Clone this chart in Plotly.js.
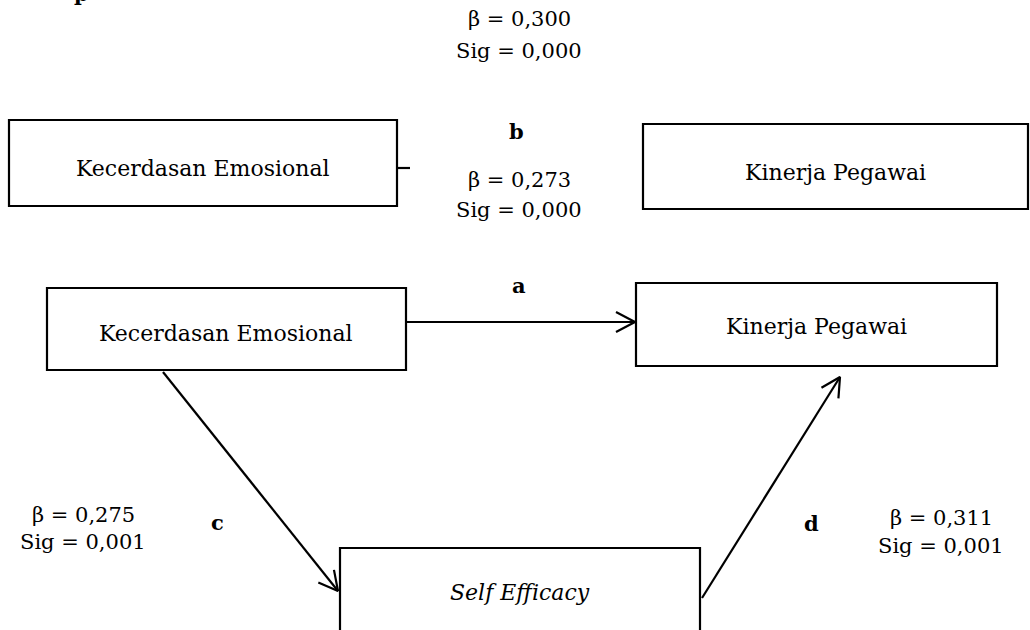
<!DOCTYPE html>
<html>
<head>
<meta charset="utf-8">
<script src="https://cdn.plot.ly/plotly-3.0.1.min.js"></script>
<style>html,body{margin:0;padding:0;background:#fff;}#chart{width:1030px;height:630px;}</style>
</head>
<body>
<div id="chart"></div>
<script>
// ---- data ----
const variables = ["Kecerdasan Emosional", "Kinerja Pegawai", "Self Efficacy"];
const pathNames = ["a", "b", "c", "d"];
const betaTotal = "0,300";
const sigTotal = "0,000";
const betaValues = ["0,273", "0,275", "0,311"];   // b, c, d
const sigValues = ["0,000", "0,001", "0,001"];    // b, c, d

// ---- layout geometry (pixels) ----
const FONT = "DejaVu Serif, Liberation Serif, serif";
const FS = 21;
const FSBOX = 22;
const LW = 2.2;
const boxes = [
  {x0: 9,   y0: 120, x1: 397,  y1: 206, label: variables[0], lx: 203, ly: 168, italic: false},
  {x0: 643, y0: 124, x1: 1028, y1: 209, label: variables[1], lx: 835, ly: 172, italic: false},
  {x0: 47,  y0: 288, x1: 406,  y1: 370, label: variables[0], lx: 226, ly: 333, italic: false},
  {x0: 636, y0: 283, x1: 997,  y1: 366, label: variables[1], lx: 816, ly: 326, italic: false},
  {x0: 340, y0: 548, x1: 700,  y1: 645, label: variables[2], lx: 520, ly: 592, italic: true}
];
const arrows = [
  [406, 322, 635, 322],
  [163, 372, 338, 591],
  [702, 598, 840, 377]
];

const shapes = [];
const annotations = [];
boxes.forEach(b => {
  shapes.push({type: "rect", xref: "x", yref: "y", x0: b.x0, y0: b.y0, x1: b.x1, y1: b.y1,
    line: {color: "#000", width: LW}, fillcolor: "rgba(0,0,0,0)"});
  annotations.push({x: b.lx, y: b.ly, xref: "x", yref: "y", showarrow: false,
    text: b.italic ? "<i>" + b.label + "</i>" : b.label,
    font: {family: FONT, size: FSBOX, color: "#000"}, xanchor: "center", yanchor: "middle"});
});
// stub from top-left box
shapes.push({type: "line", xref: "x", yref: "y", x0: 397, y0: 168, x1: 410, y1: 168, line: {color: "#000", width: LW}});

const traces = [];
arrows.forEach(a => {
  const [x0, y0, x1, y1] = a;
  const dx = x1 - x0, dy = y1 - y0, L = Math.hypot(dx, dy);
  const ux = dx / L, uy = dy / L, px = -uy, py = ux;
  const len = 19, hw = 10;
  traces.push({x: [x0, x1], y: [y0, y1], mode: "lines", line: {color: "#000", width: LW}, hoverinfo: "skip"});
  traces.push({x: [x1 - ux*len + px*hw, x1, x1 - ux*len - px*hw],
               y: [y1 - uy*len + py*hw, y1, y1 - uy*len - py*hw],
               mode: "lines", line: {color: "#000", width: LW}, hoverinfo: "skip"});
});

function txt(x, y, t, bold, yshift) {
  annotations.push({x: x, y: y, xref: "x", yref: "y", showarrow: false,
    text: bold ? "<b>" + t + "</b>" : t, yshift: yshift || 0,
    font: {family: FONT, size: FS, color: "#000"}, xanchor: "center", yanchor: "middle"});
}
txt(519, 19, "β = " + betaTotal);
txt(519, 51, "Sig = " + sigTotal);
txt(516, 131, pathNames[1], true);
txt(519, 180, "β = " + betaValues[0]);
txt(519, 210, "Sig = " + sigValues[0]);
txt(519, 285, pathNames[0], true);
txt(83, 515, "β = " + betaValues[1]);
txt(83, 542, "Sig = " + sigValues[1]);
txt(217, 522, pathNames[2], true);
txt(811, 523, pathNames[3], true);
txt(941, 518, "β = " + betaValues[2]);
txt(941, 546, "Sig = " + sigValues[2]);
txt(81, 0, "p", true, 7);

const layout = {
  width: 1030, height: 630,
  margin: {l: 0, r: 0, t: 0, b: 0},
  paper_bgcolor: "#fff", plot_bgcolor: "#fff",
  showlegend: false,
  xaxis: {range: [0, 1030], visible: false, fixedrange: true},
  yaxis: {range: [630, 0], visible: false, fixedrange: true},
  shapes: shapes,
  annotations: annotations
};
Plotly.newPlot("chart", traces, layout, {staticPlot: true, displayModeBar: false});
</script>
</body>
</html>
